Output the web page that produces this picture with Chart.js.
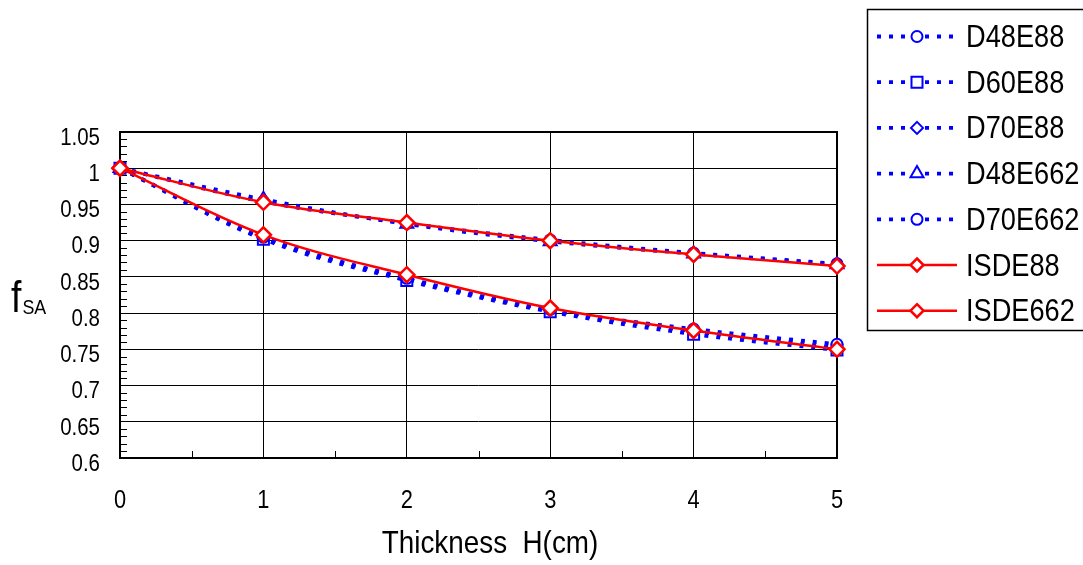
<!DOCTYPE html>
<html><head><meta charset="utf-8">
<script src="https://cdn.jsdelivr.net/npm/chart.js@4.4.1/dist/chart.umd.min.js"></script>
<style>html,body{margin:0;padding:0;background:#fff;overflow:hidden}#wrap{width:1083px;height:565px;position:relative}</style>
</head><body><div id="wrap"><canvas id="c" width="1083" height="565"></canvas></div>
<script>
// ---- data ----
const thickness = [0, 1, 2, 3, 4, 5];
const D48E88  = [1, 0.905, 0.848, 0.805, 0.778, 0.757];
const D60E88  = [1, 0.902, 0.845, 0.802, 0.771, 0.749];
const D70E88  = [1, 0.904, 0.847, 0.804, 0.775, 0.752];
const D48E662 = [1, 0.957, 0.923, 0.899, 0.882, 0.867];
const D70E662 = [1, 0.954, 0.924, 0.901, 0.883, 0.868];
const ISDE88  = [1, 0.908, 0.853, 0.807, 0.776, 0.750];
const ISDE662 = [1, 0.953, 0.925, 0.900, 0.881, 0.865];
const seriesNames = ['D48E88', 'D60E88', 'D70E88', 'D48E662', 'D70E662', 'ISDE88', 'ISDE662'];
const xTickLabels = ['0', '1', '2', '3', '4', '5'];
const yTickLabels = ['0.6', '0.65', '0.7', '0.75', '0.8', '0.85', '0.9', '0.95', '1', '1.05'];
const xTitle = 'Thickness  H(cm)';
const yTitleMain = 'f', yTitleSub = 'SA';

const FONT = "'Liberation Sans', Arial, sans-serif";
const BLUE = '#0000ff', RED = '#ff0000';

function pts(arr) { return thickness.map((x, i) => ({ x: x, y: arr[i] })); }
function blue(label, arr, style, r) {
  return { label, data: pts(arr), borderColor: BLUE, borderWidth: 3.8, borderDash: [4, 8],
    borderCapStyle: 'butt', pointStyle: style, pointRadius: r, pointHoverRadius: r,
    pointBorderWidth: 2, pointBorderColor: BLUE, pointBackgroundColor: '#fff',
    tension: 0.35, clip: false, order: 1, fill: false };
}
function red(label, arr) {
  return { label, data: pts(arr), borderColor: RED, borderWidth: 2.5, borderDash: [],
    pointStyle: 'rectRot', pointRadius: 7.5, pointHoverRadius: 7.5, pointBorderWidth: 2.5,
    pointBorderColor: RED, pointBackgroundColor: '#fff', tension: 0.35, clip: false, order: 0, fill: false };
}
const datasets = [
  blue(seriesNames[0], D48E88, 'circle', 5.5),
  blue(seriesNames[1], D60E88, 'rect', 7.8),
  blue(seriesNames[2], D70E88, 'rectRot', 6),
  blue(seriesNames[3], D48E662, 'triangle', 7.5),
  blue(seriesNames[4], D70E662, 'circle', 5.5),
  red(seriesNames[5], ISDE88),
  red(seriesNames[6], ISDE662)
];

function marker(ctx, style, x, y, r) {
  ctx.beginPath();
  if (style === 'circle') { ctx.arc(x, y, r, 0, Math.PI * 2); }
  else if (style === 'rect') { const s = r * Math.SQRT1_2; ctx.rect(x - s, y - s, 2 * s, 2 * s); }
  else if (style === 'rectRot') { ctx.moveTo(x, y - r); ctx.lineTo(x + r, y); ctx.lineTo(x, y + r); ctx.lineTo(x - r, y); ctx.closePath(); }
  else if (style === 'triangle') {
    let a = 0;
    ctx.moveTo(x + Math.sin(a) * r, y - Math.cos(a) * r); a += 2 * Math.PI / 3;
    ctx.lineTo(x + Math.sin(a) * r, y - Math.cos(a) * r); a += 2 * Math.PI / 3;
    ctx.lineTo(x + Math.sin(a) * r, y - Math.cos(a) * r); ctx.closePath();
  }
  ctx.fill(); ctx.stroke();
}

// draw horizontally condensed text (the reference uses a narrow face)
function txt(ctx, s, x, y, size, sx, align) {
  ctx.save();
  ctx.translate(x, y); ctx.scale(sx, 1);
  ctx.font = size + 'px ' + FONT; ctx.textAlign = align; ctx.textBaseline = 'alphabetic';
  ctx.fillStyle = '#000';
  ctx.fillText(s, 0, 0);
  const w = ctx.measureText(s).width * sx;
  ctx.restore();
  return w;
}

const decor = {
  id: 'decor',
  beforeDatasetsDraw(chart) {
    const ctx = chart.ctx, a = chart.chartArea, xs = chart.scales.x, ys = chart.scales.y;
    ctx.save();
    ctx.strokeStyle = '#000'; ctx.lineWidth = 1;
    ctx.beginPath();
    for (let k = 61; k < 105; k++) {
      if (k % 5 === 0) continue;
      const py = Math.round(ys.getPixelForValue(k / 100)) + 0.5;
      ctx.moveTo(a.left, py); ctx.lineTo(a.left + 7, py);
    }
    for (let k = 0; k < 5; k++) {
      const px = Math.round(xs.getPixelForValue(k + 0.5)) + 0.5;
      ctx.moveTo(px, a.bottom); ctx.lineTo(px, a.bottom - 7);
    }
    ctx.stroke();
    ctx.lineWidth = 2;
    ctx.strokeRect(a.left, a.top, a.right - a.left, a.bottom - a.top);
    ctx.restore();
  },
  afterDraw(chart) {
    const ctx = chart.ctx, xs = chart.scales.x, ys = chart.scales.y;
    ctx.save();
    // tick labels
    yTickLabels.forEach(l => {
      const py = ys.getPixelForValue(parseFloat(l));
      txt(ctx, l, 100, py + 4.5 + 8.3, 23, 0.89, 'right');
    });
    xTickLabels.forEach((l, i) => {
      const px = xs.getPixelForValue(thickness[i]);
      txt(ctx, l, px, 507.5, 26, 0.84, 'center');
    });
    // x title
    txt(ctx, xTitle, 490, 553, 32, 0.87, 'center');
    // y title
    const fw = txt(ctx, yTitleMain, 11, 312, 44, 0.85, 'left');
    txt(ctx, yTitleSub, 11 + fw + 1, 314, 21, 0.85, 'left');
    // legend box
    ctx.strokeStyle = '#000'; ctx.lineWidth = 1.5;
    ctx.strokeRect(867.5, 9.5, 240, 321);
    chart.data.datasets.forEach((ds, i) => {
      const cy = 36.5 + 45.7 * i;
      ctx.save();
      ctx.strokeStyle = ds.borderColor; ctx.lineWidth = ds.borderWidth;
      ctx.lineCap = 'butt'; ctx.setLineDash(ds.borderDash || []);
      ctx.beginPath(); ctx.moveTo(877, cy); ctx.lineTo(957, cy); ctx.stroke();
      ctx.setLineDash([]);
      ctx.fillStyle = '#fff'; ctx.strokeStyle = ds.pointBorderColor; ctx.lineWidth = ds.pointBorderWidth;
      marker(ctx, ds.pointStyle, 917, cy, ds.pointStyle === 'rectRot' && ds.borderDash.length === 0 ? 6.5 : ds.pointRadius);
      ctx.restore();
      txt(ctx, ds.label, 966, cy + 10.5, 32, 0.85, 'left');
    });
    ctx.restore();
  }
};

new Chart(document.getElementById('c'), {
  type: 'line',
  data: { datasets },
  options: {
    responsive: false, animation: false, devicePixelRatio: 1,
    layout: { padding: { left: 0, right: 246, top: 132, bottom: 0 } },
    plugins: { legend: { display: false }, tooltip: { enabled: false } },
    scales: {
      x: {
        type: 'linear', min: 0, max: 5,
        afterFit(s) { s.height = 107; },
        ticks: { stepSize: 1, display: false },
        grid: { color: '#000', lineWidth: 1, drawTicks: false },
        border: { display: false }
      },
      y: {
        min: 0.6, max: 1.05,
        afterFit(s) { s.width = 120; },
        ticks: { stepSize: 0.05, display: false },
        grid: { color: '#000', lineWidth: 1, drawTicks: false },
        border: { display: false }
      }
    }
  },
  plugins: [decor]
});
</script></body></html>
